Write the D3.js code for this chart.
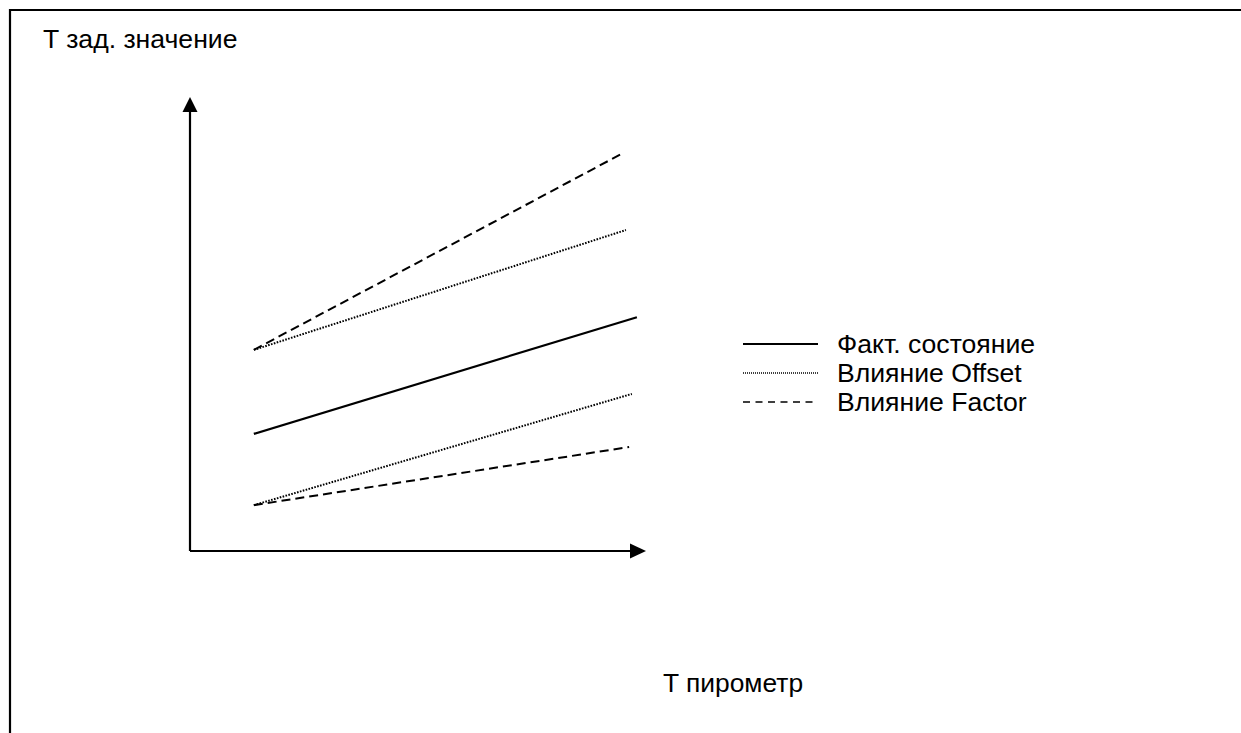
<!DOCTYPE html>
<html>
<head>
<meta charset="utf-8">
<script src="https://cdn.jsdelivr.net/npm/d3@7"></script>
<style>
  html, body { margin: 0; padding: 0; background: #fff; }
  svg text { font-family: "Liberation Sans", Arial, sans-serif; fill: #000; }
</style>
</head>
<body>
<svg id="chart" width="1241" height="733"></svg>
<script>
// x / y in relative units (0..100 along each axis)
const xStart = 14;
const factEnd = [98, 51.5];
const factStartY = 25.8;
const offsetUp = [[14, 44.3], [95.6, 70.7]];
const offsetDown = [[14, 10.1], [96.9, 34.6]];
const factorUp = [[14, 44.3], [94.5, 87.4]];
const factorDown = [[14, 10.1], [96.3, 22.9]];
const fact = [[xStart, factStartY], factEnd];

const legendLabels = ['Факт. состояние', 'Влияние Offset', 'Влияние Factor'];
const yTitle = 'T зад. значение';
const xTitle = 'T пирометр';

const svg = d3.select('#chart');

const x = d3.scaleLinear().domain([0, 100]).range([190, 646]);
const y = d3.scaleLinear().domain([0, 100]).range([551, 97]);

const styles = {
  solid: { dash: null, width: 2.2 },
  dotted: { dash: '1.6,1.4', width: 2 },
  dashed: { dash: '9,5', width: 2 }
};

// frame (top and left only)
svg.append('line').attr('x1', 10).attr('y1', 10).attr('x2', 1241).attr('y2', 10)
  .attr('stroke', '#000').attr('stroke-width', 2.2);
svg.append('line').attr('x1', 10).attr('y1', 9).attr('x2', 10).attr('y2', 733)
  .attr('stroke', '#000').attr('stroke-width', 2.2);

// axes with arrows
svg.append('line')
  .attr('x1', x(0)).attr('y1', y(0))
  .attr('x2', x(0)).attr('y2', y(100) + 14)
  .attr('stroke', '#000').attr('stroke-width', 2.2);
svg.append('path')
  .attr('d', `M${x(0)},${y(100)} L${x(0) - 7.5},${y(100) + 15} L${x(0) + 7.5},${y(100) + 15} Z`)
  .attr('fill', '#000');

svg.append('line')
  .attr('x1', x(0)).attr('y1', y(0))
  .attr('x2', x(100) - 14).attr('y2', y(0))
  .attr('stroke', '#000').attr('stroke-width', 2.2);
svg.append('path')
  .attr('d', `M${x(100)},${y(0)} L${x(100) - 16},${y(0) - 7.5} L${x(100) - 16},${y(0) + 7.5} Z`)
  .attr('fill', '#000');

// series
const line = d3.line().x(d => x(d[0])).y(d => y(d[1]));
const series = [
  { data: factorUp, style: 'dashed' },
  { data: offsetUp, style: 'dotted' },
  { data: fact, style: 'solid' },
  { data: offsetDown, style: 'dotted' },
  { data: factorDown, style: 'dashed' }
];

svg.selectAll('path.series')
  .data(series)
  .enter().append('path')
  .attr('class', 'series')
  .attr('d', d => line(d.data))
  .attr('fill', 'none')
  .attr('stroke', '#000')
  .attr('stroke-width', d => styles[d.style].width)
  .attr('stroke-dasharray', d => styles[d.style].dash);

// legend
const legendStyles = [
  { dash: null, width: 2 },
  { dash: '1,1', width: 1.6 },
  { dash: '7,5.5', width: 1.5 }
];
const legend = svg.append('g').attr('transform', 'translate(743,344)');
legendLabels.forEach(function(label, i){
  const g = legend.append('g').attr('transform', `translate(0,${i * 29})`);
  g.append('line').attr('x1', 0).attr('x2', 75).attr('y1', 0).attr('y2', 0)
    .attr('stroke', '#000')
    .attr('stroke-width', legendStyles[i].width)
    .attr('stroke-dasharray', legendStyles[i].dash);
  g.append('text').attr('x', 94).attr('y', 9)
    .style('font-size', '26.6px')
    .text(label);
});

// titles
svg.append('text').attr('x', 43).attr('y', 48).style('font-size', '26.6px').text(yTitle);
svg.append('text').attr('x', 663).attr('y', 692).style('font-size', '26.4px').text(xTitle);
</script>
</body>
</html>
